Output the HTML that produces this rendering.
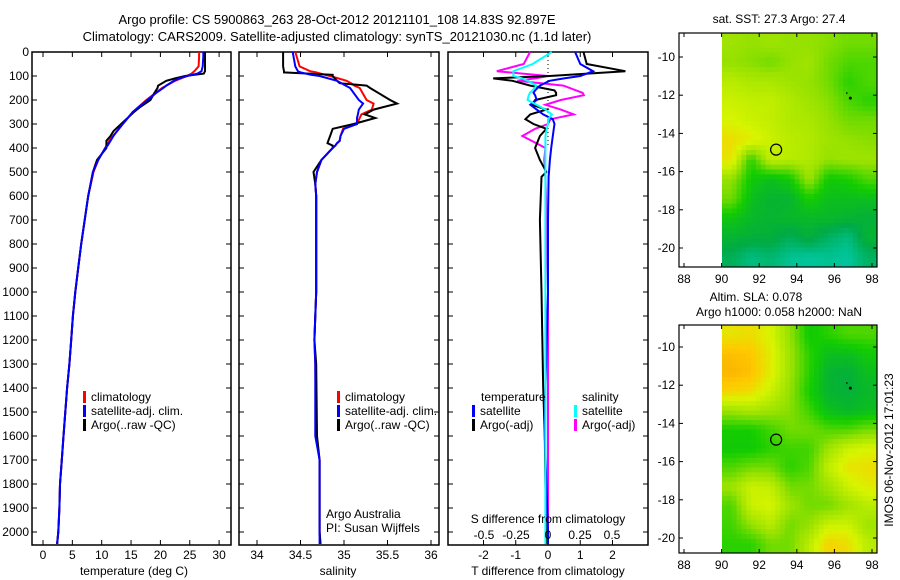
<!DOCTYPE html>
<html><head><meta charset="utf-8">
<style>
html,body{margin:0;padding:0;background:#fff;}
svg{display:block;font-family:"Liberation Sans",sans-serif;font-size:12px;}
</style></head>
<body>
<svg id="c" width="900" height="580" viewBox="0 0 900 580" xmlns="http://www.w3.org/2000/svg">
<text x="337" y="24" text-anchor="middle" font-size="13">Argo profile: CS 5900863_263 28-Oct-2012 20121101_108 14.83S 92.897E</text>
<text x="337" y="41" text-anchor="middle" font-size="13">Climatology: CARS2009. Satellite-adjusted climatology: synTS_20121030.nc (1.1d later)</text>
<g id="g"></g>
</svg>
<script>
// ---------- data ----------
const depths=[0,20,60,80,90,100,110,120,140,150,170,200,230,250,300,330,350,370,390,400,450,500,600,700,800,900,1000,1100,1200,1300,1400,1500,1600,1700,1800,1900,2000,2050];
const tempClim=[26.6,26.6,26.5,25.8,25.3,24.5,23.5,22.5,21,20.3,19.2,17.6,16.2,15.3,13.6,12.6,11.9,11.3,10.8,10.6,9.4,8.6,7.7,7.1,6.5,6.0,5.5,5.1,4.8,4.5,4.1,3.8,3.5,3.2,2.9,2.8,2.6,2.4];
const tempSat=[27.3,27.3,27.2,27.0,26.3,24.6,23.2,22.3,21,20.5,19.3,17.8,16.3,15.3,13.6,12.6,12.0,11.5,11.0,10.6,9.4,8.5,7.7,7.1,6.5,6.0,5.5,5.1,4.8,4.5,4.1,3.8,3.5,3.2,2.9,2.8,2.6,2.4];
const tempArgo=[27.6,27.6,27.6,27.6,27.4,24.2,22.5,21,19.6,19.5,19,18.3,16.5,15.5,13.3,12,11.5,10.8,10.8,10.8,9.2,8.5,7.7,7.1,6.5,6,5.5,5.1,4.8,4.5,4.1,3.8,3.5,3.2,2.9,2.8,2.6,2.4];
const salDepths=[0,60,80,85,95,100,120,130,140,150,200,215,240,260,275,300,320,350,370,380,390,400,450,500,550,600,800,1000,1200,1300,1600,1700,2000,2050];
const salClim=[34.44,34.49,34.61,34.68,34.78,34.84,35.03,35.08,35.12,35.18,35.26,35.34,35.32,35.2,35.18,35.15,34.99,34.96,34.95,34.92,34.9,34.87,34.74,34.69,34.67,34.68,34.68,34.68,34.66,34.67,34.68,34.72,34.72,34.73];
const salSat=[34.41,34.44,34.47,34.5,34.62,34.72,34.92,34.97,35.02,35.07,35.17,35.22,35.17,35.16,35.15,35.15,35.0,34.96,34.95,34.92,34.9,34.87,34.74,34.69,34.67,34.68,34.68,34.68,34.66,34.67,34.67,34.72,34.72,34.72];
const salArgo=[34.30,34.30,34.31,34.31,34.87,34.87,34.92,34.95,35.26,35.30,35.53,35.61,35.34,35.24,35.36,35.11,34.87,34.84,34.82,34.81,34.87,34.87,34.74,34.65,34.67,34.68,34.68,34.68,34.66,34.68,34.69,34.72,34.72,34.73];
const diffDepths=[0,50,80,100,110,120,140,160,170,180,200,220,240,260,280,300,320,350,400,450,500,520,700,1000,1400,1600,1800,2000,2050];
const tSatDiff=[0.84,1.0,1.4,1.0,0.5,0.05,-0.25,-0.4,-0.45,-0.4,-0.35,-0.55,-0.35,-0.15,0.15,0.2,0.18,0.15,0.1,0.06,0.03,0.02,0.0,0.0,-0.08,-0.1,-0.05,0.0,0.0];
const tArgoDiff=[1.1,1.2,2.4,0.05,-1.7,-1.1,-0.55,0.2,0.25,0.25,-0.4,-0.5,-0.05,-0.55,-0.7,-0.45,-0.05,-0.25,-0.4,-0.25,-0.05,-0.2,-0.25,-0.2,-0.15,-0.1,-0.08,-0.05,-0.05];
const sSatDiff=[0.03,-0.12,-0.27,-0.27,-0.2,-0.16,-0.09,-0.12,-0.14,-0.15,-0.16,-0.09,-0.02,0.03,0.0,0.0,-0.01,-0.02,-0.02,-0.02,-0.02,-0.02,-0.02,-0.02,-0.02,-0.02,-0.02,-0.02,-0.02];
const sArgoDiff=[-0.14,-0.19,-0.4,0.0,-0.1,-0.24,0.12,0.22,0.27,0.28,0.1,-0.02,0.1,0.2,0.02,0.0,-0.1,-0.2,-0.02,-0.03,-0.02,-0.02,-0.01,0.0,0.0,0.0,0.0,0.0,0.0];
const depthTicks=[0,100,200,300,400,500,600,700,800,900,1000,1100,1200,1300,1400,1500,1600,1700,1800,1900,2000];
const tempTicks=[0,5,10,15,20,25,30];
const salTicks=[34,34.5,35,35.5,36];
const salTickLabels=["34","34.5","35","35.5","36"];
const tDiffTicks=[-2,-1,0,1,2];
const sDiffTicks=[-0.5,-0.25,0,0.25,0.5];
const lonTicks=[88,90,92,94,96,98];
const latTicks=[-10,-12,-14,-16,-18,-20];
const sstGrid=[
[0.62,0.6,0.62,0.6,0.6,0.58,0.55,0.55],
[0.6,0.58,0.55,0.6,0.62,0.55,0.5,0.5],
[0.68,0.65,0.65,0.62,0.6,0.55,0.45,0.5],
[0.72,0.7,0.7,0.66,0.62,0.58,0.5,0.45],
[0.75,0.72,0.7,0.66,0.65,0.6,0.55,0.55],
[0.82,0.78,0.72,0.68,0.66,0.62,0.6,0.58],
[0.8,0.45,0.7,0.68,0.66,0.6,0.62,0.62],
[0.6,0.4,0.35,0.4,0.62,0.4,0.42,0.5],
[0.55,0.35,0.3,0.3,0.42,0.35,0.35,0.35],
[0.38,0.32,0.3,0.32,0.32,0.32,0.3,0.28],
[0.3,0.28,0.28,0.22,0.28,0.2,0.15,0.3],
[0.22,0.15,0.18,0.12,0.1,0.12,0.1,0.2]];
const slaGrid=[
[0.8,0.82,0.75,0.6,0.4,0.45,0.5,0.5],
[0.9,0.88,0.78,0.62,0.45,0.35,0.35,0.4],
[0.92,0.9,0.78,0.62,0.45,0.3,0.28,0.35],
[0.85,0.82,0.72,0.6,0.42,0.3,0.28,0.32],
[0.62,0.65,0.62,0.58,0.48,0.35,0.32,0.35],
[0.42,0.42,0.48,0.55,0.55,0.5,0.5,0.55],
[0.4,0.4,0.45,0.48,0.48,0.62,0.72,0.75],
[0.5,0.55,0.55,0.45,0.5,0.7,0.8,0.82],
[0.62,0.72,0.7,0.55,0.55,0.62,0.72,0.78],
[0.5,0.72,0.75,0.62,0.55,0.55,0.62,0.68],
[0.48,0.6,0.68,0.55,0.6,0.72,0.72,0.62],
[0.45,0.45,0.55,0.55,0.68,0.85,0.82,0.68]];
const argoPos=[92.9,-14.85];
const otherPos=[96.85,-12.15];

// ---------- helpers ----------
const NS="http://www.w3.org/2000/svg";
const G=document.getElementById('g');
function el(tag,attrs,parent){const e=document.createElementNS(NS,tag);for(const k in attrs)e.setAttribute(k,attrs[k]);(parent||G).appendChild(e);return e;}
function txt(x,y,s,anchor,parent){const t=el('text',{x:x,y:y,'text-anchor':anchor||'middle'},parent);t.textContent=s;return t;}
const Y0=52, YS=0.24, PB=545;
const yD=d=>Y0+d*YS;
const xT=v=>43+v*5.87;
const xS=v=>257+(v-34)*87;
const xTd=v=>548+v*32.25;
const xSd=v=>548+v*128;

function panel(name,x0,x1,ticks,tickLabels,xf,labelLeft){
  const g=el('g',{});
  
  
  el('rect',{x:x0,y:Y0,width:x1-x0,height:PB-Y0,fill:'none',stroke:'#000','stroke-width':1.5},g);
  depthTicks.forEach(d=>{
    el('line',{x1:x0,x2:x0+5,y1:yD(d),y2:yD(d),stroke:'#000'},g);
    el('line',{x1:x1-5,x2:x1,y1:yD(d),y2:yD(d),stroke:'#000'},g);
    if(labelLeft){const t=txt(x0-3,yD(d)+4,String(d),'end',g);}
  });
  ticks.forEach((v,i)=>{
    const x=xf(v);
    el('line',{x1:x,x2:x,y1:Y0,y2:Y0+5,stroke:'#000'},g);
    el('line',{x1:x,x2:x,y1:PB-5,y2:PB,stroke:'#000'},g);
    if(tickLabels){const t=txt(x,559,tickLabels[i],'middle',g);}
  });
  return g;
}
function line(name,xs,ds,xf,color,w){
  const pts=xs.map((v,i)=>xf(v).toFixed(1)+','+yD(ds[i]).toFixed(1)).join(' ');
  const p=el('polyline',{points:pts,fill:'none',stroke:color,'stroke-width':w||2,'stroke-linejoin':'miter'});
  
  
}
function legend(x,y,color,label,name){
  const r=el('rect',{x:x,y:y-10,width:3,height:12,fill:color});
  
  
  const t=txt(x+8,y,label,'start');
  
  
}

// ---------- temperature panel ----------
panel('temperature-panel',32,231,tempTicks,tempTicks.map(String),xT,true);
line('temp-climatology-line',tempClim,depths,xT,'#ff0000');
line('temp-argo-line',tempArgo,depths,xT,'#000000');
line('temp-satellite-line',tempSat,depths,xT,'#0000ff');
let t=txt(134,575,'temperature (deg C)');

legend(83,401,'#ff0000','climatology','legend-climatology');
legend(83,415,'#0000ff','satellite-adj. clim.','legend-satellite');
legend(83,429,'#000000','Argo(..raw -QC)','legend-argo');

// ---------- salinity panel ----------
panel('salinity-panel',239,439,salTicks,salTickLabels,xS,false);
line('sal-climatology-line',salClim,salDepths,xS,'#ff0000');
line('sal-argo-line',salArgo,salDepths,xS,'#000000');
line('sal-satellite-line',salSat,salDepths,xS,'#0000ff');
t=txt(338,575,'salinity');

legend(337,401,'#ff0000','climatology','legend-sal-climatology');
legend(337,415,'#0000ff','satellite-adj. clim.','legend-sal-satellite');
legend(337,429,'#000000','Argo(..raw -QC)','legend-sal-argo');
t=txt(326,518,'Argo Australia','start');

t=txt(326,532,'PI: Susan Wijffels','start');


// ---------- difference panel ----------
panel('difference-panel',448,648,tDiffTicks,tDiffTicks.map(String),xTd,false);
const zl=el('line',{x1:xTd(0),x2:xTd(0),y1:Y0,y2:yD(400),stroke:'#000','stroke-dasharray':'1,3'});

line('s-argo-diff-line',sArgoDiff,diffDepths,xSd,'#ff00ff');
line('t-argo-diff-line',tArgoDiff,diffDepths,xTd,'#000000');
line('t-satellite-diff-line',tSatDiff,diffDepths,xTd,'#0000ff');
line('s-satellite-diff-line',sSatDiff,diffDepths,xSd,'#00ffff');
sDiffTicks.forEach(v=>{
  const s=txt(xSd(v),539,String(v));
  
});
t=txt(548,523,'S difference from climatology');

t=txt(548,575,'T difference from climatology');

t=txt(481,401,'temperature','start');

t=txt(582,401,'salinity','start');

legend(472,415,'#0000ff','satellite','legend-t-satellite');
legend(472,429,'#000000','Argo(-adj)','legend-t-argo');
legend(574,415,'#00ffff','satellite','legend-s-satellite');
legend(574,429,'#ff00ff','Argo(-adj)','legend-s-argo');

// ---------- maps ----------
const stops=[[0,[0,215,215]],[0.25,[0,170,70]],[0.42,[20,205,0]],[0.6,[150,225,0]],[0.75,[215,245,0]],[0.88,[255,200,0]],[1,[245,145,0]]];
function cmap(v){
  for(let i=1;i<stops.length;i++){
    if(v<=stops[i][0]){const a=stops[i-1],b=stops[i];const f=(v-a[0])/(b[0]-a[0]);
      return 'rgb('+a[1].map((c,k)=>Math.round(c+(b[1][k]-c)*f)).join(',')+')';}
  }
  return 'rgb(245,145,0)';
}
function sample(grid,fr,fc){
  const nR=grid.length,nC=grid[0].length;
  const r=Math.min(Math.max(fr-0.5,0),nR-1), c=Math.min(Math.max(fc-0.5,0),nC-1);
  const r0=Math.floor(r),c0=Math.floor(c),r1=Math.min(r0+1,nR-1),c1=Math.min(c0+1,nC-1);
  const a=r-r0,b=c-c0;
  return grid[r0][c0]*(1-a)*(1-b)+grid[r0][c1]*(1-a)*b+grid[r1][c0]*a*(1-b)+grid[r1][c1]*a*b;
}
const xLon=v=>721.6+(v-90)*18.8;
function mapPanel(name,top,bottom,lat10y,grid){
  const g=el('g',{});
  
  
  const yLat=v=>lat10y+(-10-v)*19.1;
  const nR=grid.length,nC=grid[0].length, SUB=4;
  const x0=722,x1=877;
  const cw=(x1-x0)/(nC*SUB), ch=(bottom-top)/(nR*SUB);
  for(let r=0;r<nR*SUB;r++)for(let c=0;c<nC*SUB;c++){
    const v=sample(grid,(r+0.5)/SUB,(c+0.5)/SUB);
    const cell=el('rect',{x:(x0+c*cw).toFixed(2),y:(top+r*ch).toFixed(2),width:(cw+0.4).toFixed(2),height:(ch+0.4).toFixed(2),fill:cmap(v)},g);
    
    
  }
  el('rect',{x:679,y:top,width:198,height:bottom-top,fill:'none',stroke:'#000','stroke-width':1.2},g);
  lonTicks.forEach(v=>{
    el('line',{x1:xLon(v),x2:xLon(v),y1:top,y2:top+4,stroke:'#000'},g);
    el('line',{x1:xLon(v),x2:xLon(v),y1:bottom-4,y2:bottom,stroke:'#000'},g);
    const l=txt(xLon(v),bottom+16,String(v),'middle',g);
    
  });
  latTicks.forEach(v=>{
    el('line',{x1:679,x2:683,y1:yLat(v),y2:yLat(v),stroke:'#000'},g);
    el('line',{x1:873,x2:877,y1:yLat(v),y2:yLat(v),stroke:'#000'},g);
    const l=txt(675,yLat(v)+4,String(v),'end',g);
    
  });
  const c=el('circle',{cx:xLon(argoPos[0]),cy:yLat(argoPos[1]),r:5.5,fill:'none',stroke:'#000','stroke-width':1.2},g);
  
  const d=el('circle',{cx:xLon(otherPos[0]),cy:yLat(otherPos[1]),r:1.5,fill:'#000'},g);
  
  el('rect',{x:xLon(otherPos[0])-4,y:yLat(otherPos[1])-6,width:1,height:2,fill:'#000'},g);
}
mapPanel('sst-map',33,267,57,sstGrid);
mapPanel('sla-map',325,553,347,slaGrid);
t=txt(779,23,'sat. SST: 27.3 Argo: 27.4');

t=txt(756,301,'Altim. SLA: 0.078');

t=txt(779,316,'Argo h1000: 0.058 h2000: NaN');

t=txt(0,0,'IMOS 06-Nov-2012 17:01:23');
t.setAttribute('transform','translate(893,450) rotate(-90)');

</script>
</body></html>
